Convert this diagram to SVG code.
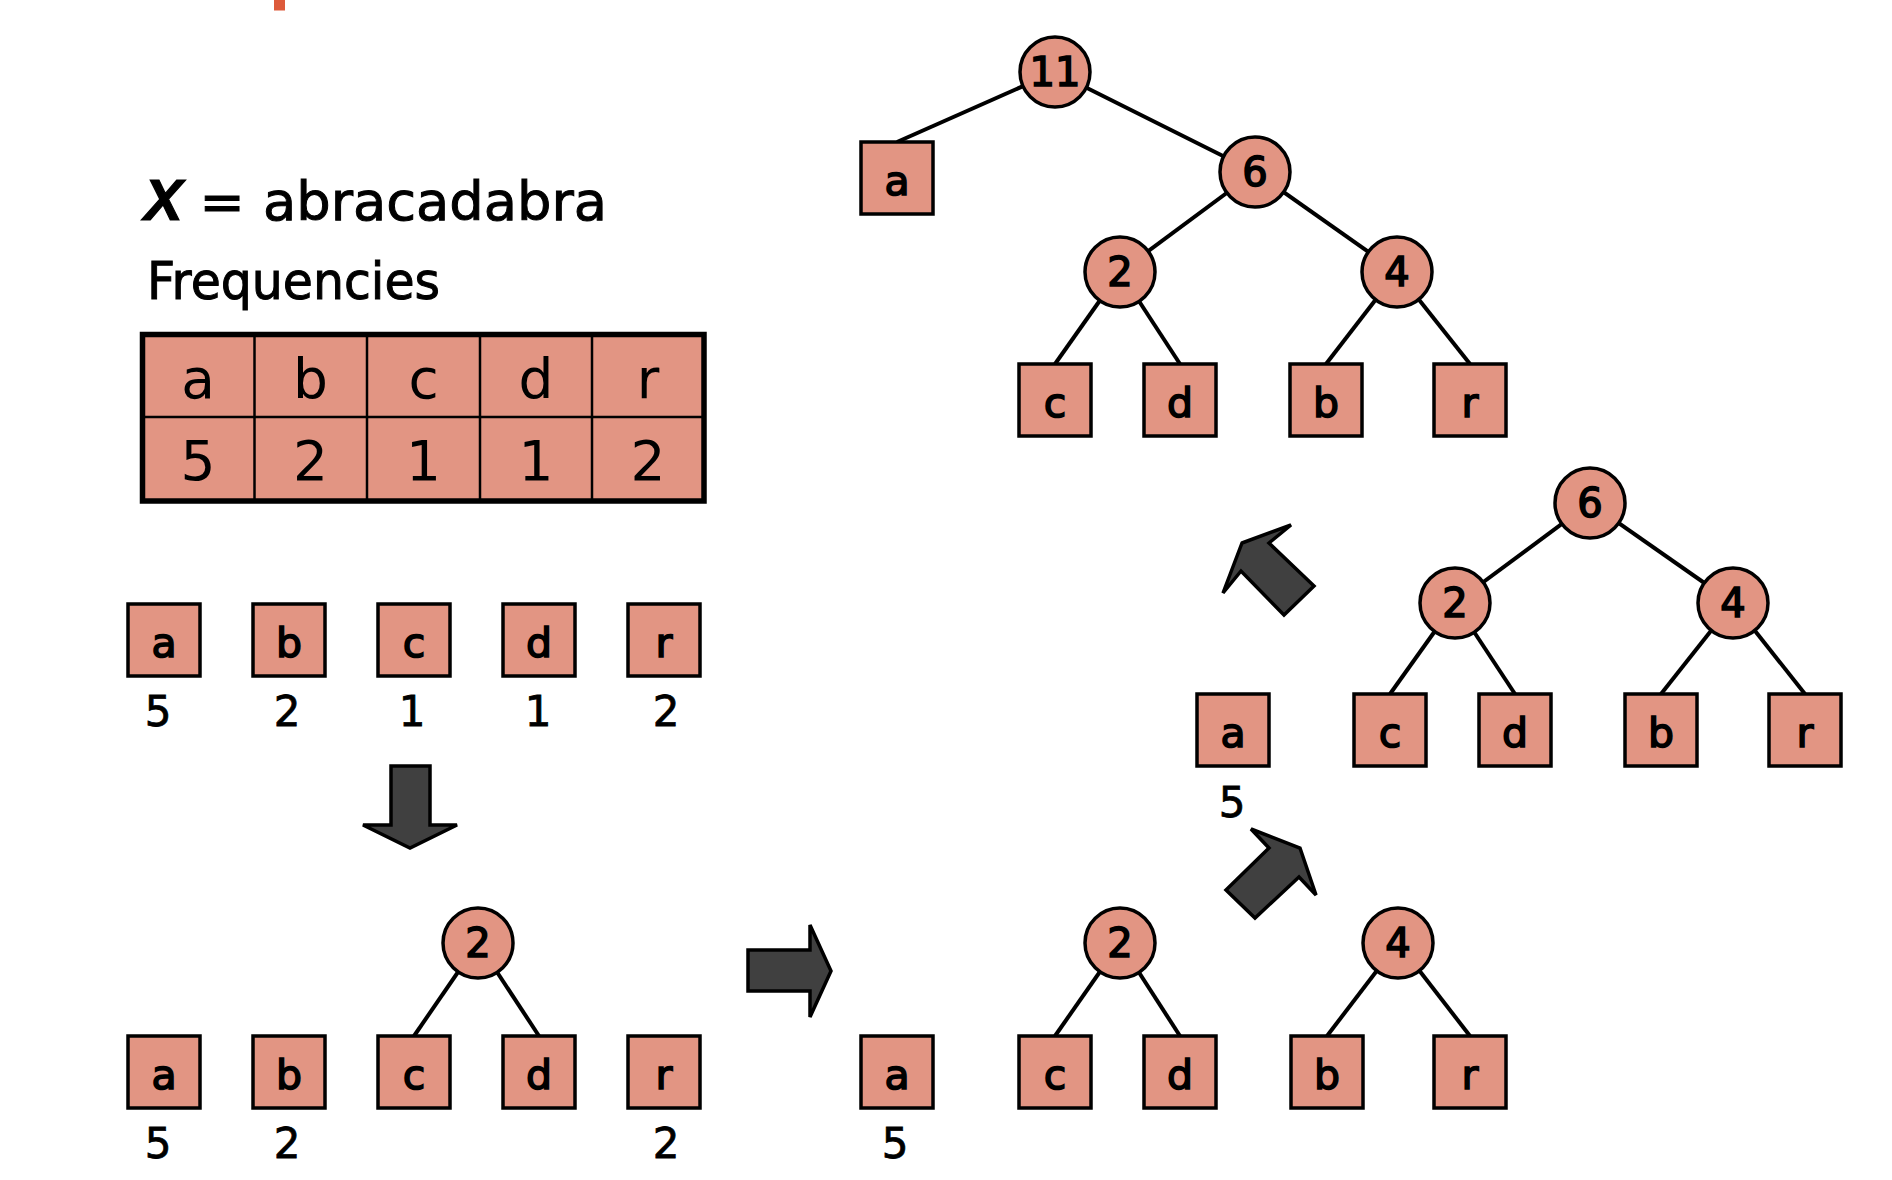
<svg xmlns="http://www.w3.org/2000/svg" width="1892" height="1180" viewBox="0 0 1892 1180">
<defs>
<style>
.sq{fill:#E29583;stroke:#000;stroke-width:3.5}
.cir{fill:#E29583;stroke:#000;stroke-width:3.5}
.lbl{font-family:"DejaVu Sans",sans-serif;font-size:41px;text-anchor:middle;fill:#000;stroke:#000;stroke-width:1.6}
.num{font-family:"DejaVu Sans",sans-serif;font-size:40px;text-anchor:middle;fill:#000;stroke:#000;stroke-width:1.6}
.cnt{font-family:"DejaVu Sans",sans-serif;font-size:42px;text-anchor:middle;fill:#000;stroke:#000;stroke-width:0.8}
.tbl{font-family:"DejaVu Sans",sans-serif;font-size:55px;text-anchor:middle;fill:#000}
.ttl{font-family:"DejaVu Sans",sans-serif;fill:#000;stroke:#000;stroke-width:1}
.edge{stroke:#000;stroke-width:4;fill:none}
.arrow{fill:#404040;stroke:#000;stroke-width:3.5;stroke-linejoin:miter}
</style>
</defs>
<rect width="1892" height="1180" fill="#fff"/>
<rect x="274" y="0" width="11" height="10.5" fill="#DD5A3B"/>

<g id="title">
<text x="144" y="220" font-family="'Liberation Sans',sans-serif" font-weight="bold" font-style="italic" font-size="58" stroke="#000" stroke-width="1.2">X</text>
<text class="ttl" x="222" y="220" font-size="54" text-anchor="middle">=</text>
<text class="ttl" x="263" y="220" font-size="54" textLength="344" lengthAdjust="spacingAndGlyphs">abracadabra</text>
<text class="ttl" x="147" y="299" font-size="52" textLength="293" lengthAdjust="spacingAndGlyphs">Frequencies</text>
</g>

<g id="freq-table">
<rect x="142.5" y="334.5" width="561.5" height="166.5" fill="#E29583" stroke="#000" stroke-width="5.5"/>
<g stroke="#000" stroke-width="2.5">
<line x1="254.5" y1="334.5" x2="254.5" y2="501"/>
<line x1="367" y1="334.5" x2="367" y2="501"/>
<line x1="480" y1="334.5" x2="480" y2="501"/>
<line x1="592" y1="334.5" x2="592" y2="501"/>
<line x1="142.5" y1="417" x2="704" y2="417"/>
</g>
<g class="tbl">
<text x="198" y="398">a</text><text x="310.5" y="398">b</text><text x="423.5" y="398">c</text><text x="536" y="398">d</text><text x="648" y="398">r</text>
<text x="198" y="480">5</text><text x="310.5" y="480">2</text><text x="423.5" y="480">1</text><text x="536" y="480">1</text><text x="648" y="480">2</text>
</g>
</g>

<g id="connectors">
<line class="edge" x1="478" y1="943" x2="414" y2="1036"/>
<line class="edge" x1="478" y1="943" x2="539" y2="1036"/>
<line class="edge" x1="1120" y1="943" x2="1055" y2="1036"/>
<line class="edge" x1="1120" y1="943" x2="1180" y2="1036"/>
<line class="edge" x1="1398" y1="943" x2="1327" y2="1036"/>
<line class="edge" x1="1398" y1="943" x2="1470" y2="1036"/>
<line class="edge" x1="1590" y1="503" x2="1455" y2="603"/>
<line class="edge" x1="1590" y1="503" x2="1733" y2="603"/>
<line class="edge" x1="1455" y1="603" x2="1390" y2="694"/>
<line class="edge" x1="1455" y1="603" x2="1515" y2="694"/>
<line class="edge" x1="1733" y1="603" x2="1661" y2="694"/>
<line class="edge" x1="1733" y1="603" x2="1805" y2="694"/>
<line class="edge" x1="1055" y1="72" x2="897" y2="142"/>
<line class="edge" x1="1055" y1="72" x2="1255" y2="172"/>
<line class="edge" x1="1255" y1="172" x2="1120" y2="272"/>
<line class="edge" x1="1255" y1="172" x2="1397" y2="272"/>
<line class="edge" x1="1120" y1="272" x2="1055" y2="364"/>
<line class="edge" x1="1120" y1="272" x2="1180" y2="364"/>
<line class="edge" x1="1397" y1="272" x2="1326" y2="364"/>
<line class="edge" x1="1397" y1="272" x2="1470" y2="364"/>
<polygon class="arrow" points="391,766 430,766 430,825 457,825 410,848 363,825 391,825"/>
<polygon class="arrow" points="748,950 810,950 810,925 831,971 810,1017 810,991 748,991"/>
<polygon class="arrow" points="1226,890 1269,848 1251,829 1300,848 1316,895 1299,877 1255,918"/>
<polygon class="arrow" points="1242,543 1291,525 1269,543 1314,586 1284,615 1241,571 1223,593"/>
</g>

<g id="r1-a"><rect class="sq" x="128" y="604" width="72" height="72"/><text class="lbl" x="164" y="657">a</text><text class="cnt" x="158" y="726">5</text></g>
<g id="r1-b"><rect class="sq" x="253" y="604" width="72" height="72"/><text class="lbl" x="289" y="657">b</text><text class="cnt" x="287" y="726">2</text></g>
<g id="r1-c"><rect class="sq" x="378" y="604" width="72" height="72"/><text class="lbl" x="414" y="657">c</text><text class="cnt" x="412" y="726">1</text></g>
<g id="r1-d"><rect class="sq" x="503" y="604" width="72" height="72"/><text class="lbl" x="539" y="657">d</text><text class="cnt" x="538" y="726">1</text></g>
<g id="r1-r"><rect class="sq" x="628" y="604" width="72" height="72"/><text class="lbl" x="664" y="657">r</text><text class="cnt" x="666" y="726">2</text></g>

<g id="r2-a"><rect class="sq" x="128" y="1036" width="72" height="72"/><text class="lbl" x="164" y="1089">a</text><text class="cnt" x="158" y="1158">5</text></g>
<g id="r2-b"><rect class="sq" x="253" y="1036" width="72" height="72"/><text class="lbl" x="289" y="1089">b</text><text class="cnt" x="287" y="1158">2</text></g>
<g id="r2-c"><rect class="sq" x="378" y="1036" width="72" height="72"/><text class="lbl" x="414" y="1089">c</text></g>
<g id="r2-d"><rect class="sq" x="503" y="1036" width="72" height="72"/><text class="lbl" x="539" y="1089">d</text></g>
<g id="r2-r"><rect class="sq" x="628" y="1036" width="72" height="72"/><text class="lbl" x="664" y="1089">r</text><text class="cnt" x="666" y="1158">2</text></g>
<g id="r2-n2"><circle class="cir" cx="478" cy="943" r="35"/><text class="num" x="478" y="957">2</text></g>

<g id="m-a"><rect class="sq" x="861" y="1036" width="72" height="72"/><text class="lbl" x="897" y="1089">a</text><text class="cnt" x="895" y="1158">5</text></g>
<g id="m-c"><rect class="sq" x="1019" y="1036" width="72" height="72"/><text class="lbl" x="1055" y="1089">c</text></g>
<g id="m-d"><rect class="sq" x="1144" y="1036" width="72" height="72"/><text class="lbl" x="1180" y="1089">d</text></g>
<g id="m-b"><rect class="sq" x="1291" y="1036" width="72" height="72"/><text class="lbl" x="1327" y="1089">b</text></g>
<g id="m-r"><rect class="sq" x="1434" y="1036" width="72" height="72"/><text class="lbl" x="1470" y="1089">r</text></g>
<g id="m-n2"><circle class="cir" cx="1120" cy="943" r="35"/><text class="num" x="1120" y="957">2</text></g>
<g id="m-n4"><circle class="cir" cx="1398" cy="943" r="35"/><text class="num" x="1398" y="957">4</text></g>

<g id="rm-a"><rect class="sq" x="1197" y="694" width="72" height="72"/><text class="lbl" x="1233" y="747">a</text><text class="cnt" x="1232" y="817">5</text></g>
<g id="rm-c"><rect class="sq" x="1354" y="694" width="72" height="72"/><text class="lbl" x="1390" y="747">c</text></g>
<g id="rm-d"><rect class="sq" x="1479" y="694" width="72" height="72"/><text class="lbl" x="1515" y="747">d</text></g>
<g id="rm-b"><rect class="sq" x="1625" y="694" width="72" height="72"/><text class="lbl" x="1661" y="747">b</text></g>
<g id="rm-r"><rect class="sq" x="1769" y="694" width="72" height="72"/><text class="lbl" x="1805" y="747">r</text></g>
<g id="rm-n2"><circle class="cir" cx="1455" cy="603" r="35"/><text class="num" x="1455" y="617">2</text></g>
<g id="rm-n4"><circle class="cir" cx="1733" cy="603" r="35"/><text class="num" x="1733" y="617">4</text></g>
<g id="rm-n6"><circle class="cir" cx="1590" cy="503" r="35"/><text class="num" x="1590" y="517">6</text></g>

<g id="t-a"><rect class="sq" x="861" y="142" width="72" height="72"/><text class="lbl" x="897" y="195">a</text></g>
<g id="t-c"><rect class="sq" x="1019" y="364" width="72" height="72"/><text class="lbl" x="1055" y="417">c</text></g>
<g id="t-d"><rect class="sq" x="1144" y="364" width="72" height="72"/><text class="lbl" x="1180" y="417">d</text></g>
<g id="t-b"><rect class="sq" x="1290" y="364" width="72" height="72"/><text class="lbl" x="1326" y="417">b</text></g>
<g id="t-r"><rect class="sq" x="1434" y="364" width="72" height="72"/><text class="lbl" x="1470" y="417">r</text></g>
<g id="t-n11"><circle class="cir" cx="1055" cy="72" r="35"/><text class="num" x="1055" y="86">11</text></g>
<g id="t-n6"><circle class="cir" cx="1255" cy="172" r="35"/><text class="num" x="1255" y="186">6</text></g>
<g id="t-n2"><circle class="cir" cx="1120" cy="272" r="35"/><text class="num" x="1120" y="286">2</text></g>
<g id="t-n4"><circle class="cir" cx="1397" cy="272" r="35"/><text class="num" x="1397" y="286">4</text></g>
</svg>
